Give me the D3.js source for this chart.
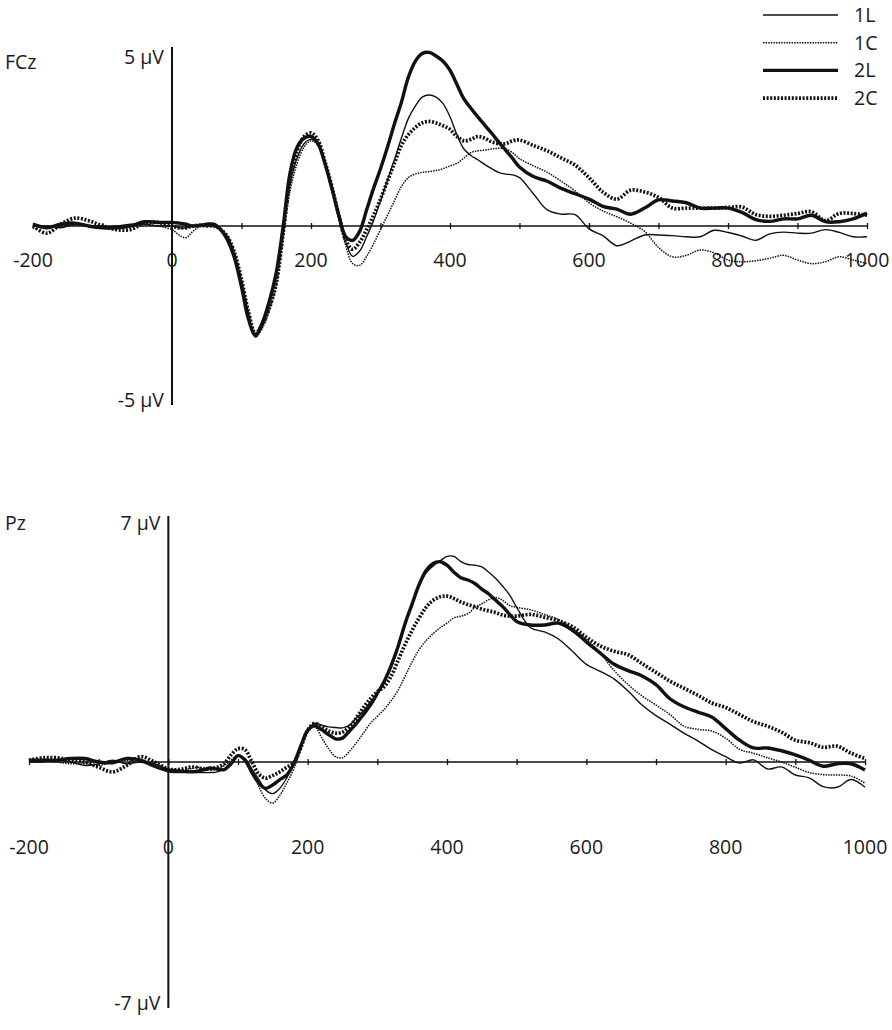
<!DOCTYPE html>
<html lang="en">
<head>
<meta charset="UTF-8">
<title>ERP FCz / Pz</title>
<script src="https://cdn.jsdelivr.net/npm/d3@7"></script>
<style>
  body { margin: 0; background: #fff; }
  text { font-family: "Open Sans", "DejaVu Sans", sans-serif; font-size: 19.5px; fill: #1a1a1a; }
</style>
</head>
<body>
<script>
// time points (ms)
const times = [-200,-180,-160,-140,-120,-100,-80,-60,-40,-20,0,
  10,20,30,40,50,60,70,80,90,100,110,120,130,140,150,160,170,180,190,200,
  210,220,230,240,250,260,270,280,290,300,310,320,330,340,350,360,370,380,390,400,
  410,420,430,440,450,460,470,480,490,500,
  520,540,560,580,600,620,640,660,680,700,720,740,760,780,800,820,840,860,880,900,
  920,940,960,980,1000];

const conditions = ["1L", "1C", "2L", "2C"];
const xTickLabels = [-200, 0, 200, 400, 600, 800, 1000];
const xTicks = [-200,-100,0,100,200,300,400,500,600,700,800,900,1000];

// FCz (µV)
const fcz1L = [0.0,0.0,-0.05,0.05,0.0,-0.05,0.0,0.05,0.05,0.0,0.0,
  -0.05,-0.05,0.0,0.02,0.02,0.0,-0.1,-0.3,-0.8,-1.55,
  -2.45,-3.1,-2.8,-2.2,-1.4,0.0,1.2,1.9,2.3,2.42,
  2.3,1.8,1.1,0.3,-0.45,-0.85,-0.7,-0.3,0.15,0.7,
  1.28,1.85,2.45,3.0,3.35,3.6,3.66,3.6,3.42,3.05,
  2.55,2.15,1.97,1.85,1.72,1.6,1.5,1.45,1.43,1.35,
  0.9,0.45,0.33,0.32,-0.08,-0.27,-0.55,-0.42,-0.25,-0.25,
  -0.27,-0.3,-0.3,-0.12,-0.18,-0.28,-0.4,-0.22,-0.17,-0.2,
  -0.2,-0.1,-0.18,-0.3,-0.3];
const fcz1C = [0.0,-0.03,0.0,0.03,0.0,0.0,-0.05,0.0,0.05,0.0,-0.1,
  -0.25,-0.33,-0.15,-0.02,0.0,0.0,-0.1,-0.3,-0.75,-1.5,
  -2.4,-3.1,-2.85,-2.35,-1.65,-0.3,1.0,1.75,2.2,2.38,
  2.25,1.75,1.05,0.25,-0.55,-1.05,-1.1,-0.85,-0.5,-0.1,
  0.3,0.7,1.1,1.35,1.45,1.5,1.52,1.55,1.6,1.68,
  1.75,1.9,2.05,2.1,2.12,2.15,2.17,2.15,2.05,1.88,
  1.68,1.5,1.25,0.98,0.65,0.42,0.26,0.08,-0.15,-0.6,
  -0.86,-0.82,-0.67,-0.75,-0.95,-1.0,-0.97,-0.9,-0.82,-0.95,
  -1.05,-1.0,-0.86,-0.95,-1.05];
const fcz2L = [0.05,-0.05,0.05,0.08,0.0,-0.05,-0.05,0.0,0.12,0.1,0.1,
  0.08,0.05,0.0,0.02,0.05,0.05,-0.1,-0.4,-0.9,-1.7,
  -2.6,-3.05,-2.7,-2.1,-1.3,0.0,1.5,2.2,2.45,2.5,
  2.3,1.75,1.05,0.3,-0.3,-0.4,-0.15,0.45,1.05,1.6,
  2.2,2.85,3.45,4.15,4.6,4.82,4.85,4.75,4.6,4.35,
  3.95,3.55,3.29,3.05,2.82,2.59,2.35,2.12,1.89,1.65,
  1.38,1.25,1.05,0.9,0.75,0.55,0.47,0.33,0.5,0.73,
  0.7,0.65,0.5,0.5,0.5,0.38,0.18,0.13,0.2,0.2,
  0.3,0.12,0.12,0.2,0.36];
const fcz2C = [0.0,-0.2,0.05,0.22,0.15,0.0,-0.1,-0.1,0.08,0.1,0.0,
  -0.05,-0.05,0.0,0.02,0.0,0.0,-0.1,-0.3,-0.75,-1.5,
  -2.4,-3.0,-2.75,-2.3,-1.6,-0.2,1.3,2.1,2.5,2.6,
  2.4,1.8,1.1,0.3,-0.4,-0.65,-0.45,-0.1,0.3,0.75,
  1.25,1.75,2.25,2.55,2.75,2.88,2.92,2.88,2.8,2.7,
  2.5,2.38,2.42,2.5,2.45,2.35,2.3,2.3,2.38,2.4,
  2.25,2.1,1.9,1.7,1.35,0.95,0.75,1.0,0.95,0.8,
  0.5,0.5,0.5,0.5,0.52,0.53,0.32,0.27,0.3,0.35,
  0.4,0.15,0.35,0.35,0.3];

// Pz (µV)
const pz1L = [0.0,0.0,0.05,0.0,-0.1,-0.05,0.05,-0.05,0.0,-0.05,-0.2,
  -0.22,-0.25,-0.25,-0.3,-0.3,-0.3,-0.28,-0.2,0.0,0.18,
  0.1,-0.2,-0.5,-0.8,-0.9,-0.75,-0.45,-0.05,0.45,0.9,
  1.1,1.05,1.0,0.98,0.97,1.05,1.25,1.45,1.71,1.95,
  2.3,2.7,3.25,3.9,4.45,5.0,5.38,5.58,5.72,5.85,
  5.85,5.7,5.62,5.6,5.55,5.4,5.22,5.0,4.75,4.4,
  3.82,3.7,3.5,3.15,2.78,2.58,2.36,2.02,1.62,1.32,
  1.08,0.82,0.6,0.35,0.15,-0.03,0.06,-0.2,-0.14,-0.37,
  -0.45,-0.7,-0.72,-0.5,-0.72];
const pz1C = [0.0,0.05,0.0,-0.05,-0.05,-0.1,0.0,0.05,0.0,-0.1,-0.25,
  -0.25,-0.22,-0.2,-0.15,-0.18,-0.22,-0.2,-0.1,0.05,0.2,
  0.1,-0.25,-0.7,-1.05,-1.17,-0.95,-0.6,-0.2,0.35,0.85,
  1.0,0.7,0.38,0.15,0.12,0.3,0.55,0.82,1.1,1.3,
  1.5,1.75,2.05,2.45,2.85,3.2,3.45,3.65,3.82,3.95,
  4.1,4.15,4.22,4.4,4.5,4.62,4.68,4.6,4.45,4.4,
  4.33,4.2,4.05,3.8,3.5,3.1,2.6,2.2,1.88,1.62,
  1.35,1.02,0.93,0.88,0.68,0.36,0.25,0.12,0.0,-0.15,
  -0.3,-0.36,-0.37,-0.4,-0.6];
const pz2L = [0.05,0.05,0.05,0.1,0.1,0.0,-0.02,0.1,0.05,-0.12,-0.25,
  -0.27,-0.27,-0.28,-0.27,-0.22,-0.17,-0.2,-0.22,-0.05,0.18,
  0.05,-0.3,-0.6,-0.75,-0.65,-0.5,-0.37,-0.05,0.45,0.9,
  1.03,0.92,0.78,0.66,0.68,0.88,1.1,1.35,1.62,1.95,
  2.3,2.75,3.3,3.95,4.5,5.05,5.45,5.65,5.7,5.6,
  5.4,5.24,5.18,5.08,4.92,4.78,4.6,4.42,4.2,4.0,
  3.9,3.9,3.95,3.75,3.42,3.1,2.78,2.6,2.45,2.2,
  1.8,1.57,1.42,1.28,0.95,0.62,0.4,0.4,0.32,0.2,
  0.05,-0.12,-0.05,-0.05,-0.23];
const pz2C = [0.05,0.12,0.12,0.05,0.0,-0.15,-0.28,-0.1,0.15,0.0,-0.2,
  -0.22,-0.2,-0.15,-0.15,-0.2,-0.2,-0.15,-0.05,0.2,0.38,
  0.35,0.0,-0.35,-0.46,-0.38,-0.28,-0.15,-0.02,0.4,0.9,
  1.1,1.0,0.88,0.82,0.85,1.0,1.25,1.55,1.8,2.0,
  2.15,2.45,2.9,3.35,3.75,4.1,4.4,4.6,4.7,4.72,
  4.65,4.55,4.48,4.42,4.35,4.3,4.25,4.18,4.15,4.15,
  4.2,4.12,4.02,3.85,3.55,3.3,3.15,3.05,2.8,2.55,
  2.3,2.1,1.9,1.68,1.55,1.35,1.15,1.02,0.85,0.62,
  0.55,0.42,0.45,0.25,0.1];

const width = 892, height = 1030;

const lineStyle = {
  "1L": {w: 1.4, dash: null},
  "1C": {w: 1.5, dash: "1.5,1.1"},
  "2L": {w: 3.4, dash: null},
  "2C": {w: 3.7, dash: "2,1.6"}
};
const drawOrder = ["1C", "1L", "2C", "2L"];

const svg = d3.select("body").append("svg")
  .attr("width", width)
  .attr("height", height)
  .style("background", "#fff");

const drawPanel = (p) => {
  const x = d3.scaleLinear().domain([-200, 1000]).range(p.xRange);
  const y = d3.scaleLinear().domain([-p.vmax, p.vmax]).range(p.yRange);
  const g = svg.append("g");

  // x axis with ticks crossing the line
  const xAxis = g.append("g")
    .attr("transform", `translate(0,${y(0)})`)
    .call(d3.axisBottom(x).tickValues(xTicks).tickSize(3).tickFormat(""));
  xAxis.select(".domain").attr("d", `M${x(-200)},0H${x(1000)}`).attr("stroke", "#111").attr("stroke-width", 1.5);
  xAxis.selectAll(".tick line").attr("y1", -3).attr("stroke", "#111").attr("stroke-width", 1.3);

  // y axis at t = 0
  g.append("line")
    .attr("x1", x(0)).attr("x2", x(0))
    .attr("y1", y(p.vmax)).attr("y2", y(-p.vmax))
    .attr("stroke", "#111").attr("stroke-width", 2);

  g.selectAll(".xlab").data(xTickLabels).enter().append("text")
    .attr("x", d => x(d))
    .attr("y", y(0) + p.labelDy)
    .attr("text-anchor", "middle")
    .text(d => d);

  g.append("text").attr("x", x(0) - 8).attr("y", y(p.vmax) + p.topDy)
    .attr("text-anchor", "end").text(`${p.vmax} µV`);
  g.append("text").attr("x", x(0) - 8).attr("y", y(-p.vmax) + 2)
    .attr("text-anchor", "end").text(`-${p.vmax} µV`);
  g.append("text").attr("x", 5).attr("y", p.nameY).text(p.name);

  const line = d3.line()
    .x((d, i) => x(times[i]))
    .y(d => y(d))
    .curve(d3.curveCatmullRom.alpha(0.5));

  drawOrder.forEach(c => {
    const s = lineStyle[c];
    g.append("path")
      .datum(p.series[c])
      .attr("d", line)
      .attr("fill", "none")
      .attr("stroke", "#111")
      .attr("stroke-width", s.w)
      .attr("stroke-dasharray", s.dash)
      .attr("stroke-linejoin", "round");
  });
};

drawPanel({
  name: "FCz", nameY: 69, vmax: 5,
  xRange: [33, 867], yRange: [405, 47],
  labelDy: 41, topDy: 17,
  series: {"1L": fcz1L, "1C": fcz1C, "2L": fcz2L, "2C": fcz2C}
});

drawPanel({
  name: "Pz", nameY: 530, vmax: 7,
  xRange: [29, 865], yRange: [1008, 516],
  labelDy: 92, topDy: 14,
  series: {"1L": pz1L, "1C": pz1C, "2L": pz2L, "2C": pz2C}
});

// legend
const legend = svg.append("g");
conditions.forEach((c, i) => {
  const s = lineStyle[c];
  const ly = 15 + i * 27.7;
  legend.append("line")
    .attr("x1", 763).attr("x2", 838)
    .attr("y1", ly).attr("y2", ly)
    .attr("stroke", "#111")
    .attr("stroke-width", s.w)
    .attr("stroke-dasharray", s.dash);
  legend.append("text").attr("x", 854).attr("y", ly + 7).text(c);
});
</script>
</body>
</html>
